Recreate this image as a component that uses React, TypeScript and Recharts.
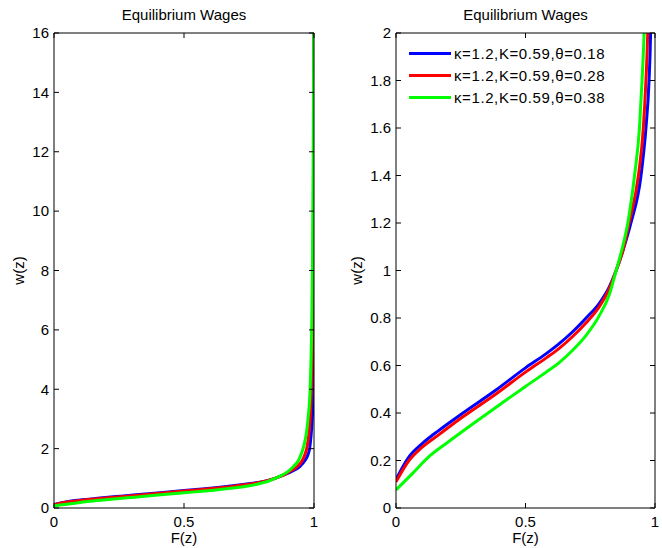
import { Legend, Line, LineChart, XAxis, YAxis } from "recharts";

// curves: F(z) on x, w(z) on y
const seriesNames = ["κ=1.2,K=0.59,θ=0.18", "κ=1.2,K=0.59,θ=0.28", "κ=1.2,K=0.59,θ=0.38"];
const seriesColors = ["#0000ff", "#ff0000", "#00ff00"];

const blueF = [0, 0.05, 0.1, 0.167, 0.257, 0.386, 0.5, 0.58, 0.63, 0.68, 0.734, 0.785, 0.824, 0.85, 0.875, 0.907, 0.946, 0.965, 0.977, 0.983, 0.993, 0.998, 1.0];
const blueW = [0.12, 0.215, 0.27, 0.328, 0.399, 0.497, 0.59, 0.65, 0.692, 0.74, 0.8, 0.862, 0.932, 1.0, 1.08, 1.2, 1.4, 1.6, 1.8, 2.0, 3.0, 4.0, 16];

const redF = [0, 0.05, 0.1, 0.167, 0.257, 0.386, 0.5, 0.58, 0.63, 0.68, 0.734, 0.785, 0.824, 0.85, 0.875, 0.9, 0.936, 0.955, 0.965, 0.972, 0.985, 0.99, 0.995, 0.998, 1.0];
const redW = [0.11, 0.2, 0.255, 0.31, 0.383, 0.48, 0.572, 0.632, 0.672, 0.72, 0.78, 0.848, 0.925, 1.0, 1.08, 1.2, 1.4, 1.6, 1.8, 2.0, 3.0, 4.0, 6.0, 10, 16];

const greenF = [0, 0.064, 0.129, 0.2, 0.3, 0.4, 0.5, 0.58, 0.63, 0.68, 0.734, 0.785, 0.824, 0.85, 0.875, 0.895, 0.921, 0.94, 0.95, 0.958, 0.977, 0.985, 0.991, 0.994, 0.997, 0.999];
const greenW = [0.076, 0.146, 0.218, 0.277, 0.357, 0.435, 0.512, 0.572, 0.612, 0.662, 0.727, 0.81, 0.9, 1.0, 1.1, 1.2, 1.4, 1.6, 1.8, 2.0, 3.0, 4.0, 6.0, 8.0, 12, 16];

const fTicks = [0, 0.5, 1];
const wTicksFull = [0, 2, 4, 6, 8, 10, 12, 14, 16];
const wTicksZoom = [0, 0.2, 0.4, 0.6, 0.8, 1, 1.2, 1.4, 1.6, 1.8, 2];

const toPoints = (fs: number[], ws: number[]) => fs.map((f, i) => ({ F: f, w: ws[i] }));
const series = [toPoints(blueF, blueW), toPoints(redF, redW), toPoints(greenF, greenW)];

const font = "'Liberation Sans', Arial, sans-serif";
const Y_AXIS_W = 44;
const PLOT_TOP = 33;
const PLOT_BOTTOM = 508;
const TICK = 5;

function LegendBox({ payload }: any) {
  return (
    <div style={{ font: `15px ${font}`, color: "#000", letterSpacing: "0.6px" }}>
      {(payload || []).map((p: any, i: number) => (
        <div key={i} style={{ display: "flex", alignItems: "center", height: 22, whiteSpace: "nowrap" }}>
          <span style={{ display: "inline-block", width: 42, height: 3, background: p.color, marginRight: 3 }} />
          <span>{p.value}</span>
        </div>
      ))}
    </div>
  );
}

type PanelProps = {
  left: number;
  width: number;
  plotLeft: number;
  plotRight: number;
  labelX: number;
  yMax: number;
  yTicks: number[];
  legend?: boolean;
};

function Panel({ left, width, plotLeft, plotRight, labelX, yMax, yTicks, legend }: PanelProps) {
  const marginLeft = plotLeft - Y_AXIS_W;

  // label plus MATLAB-style inward tick marks on both edges of the box
  const xTick = ({ x, y, payload }: any) => (
    <g>
      <path d={`M${x},${PLOT_BOTTOM}v${-TICK}M${x},${PLOT_TOP}v${TICK}`} stroke="#000" strokeWidth={1} fill="none" />
      <text x={x} y={y} dy="0.71em" textAnchor="middle" fill="#000" fontSize={15} fontFamily={font}>
        {String(payload.value)}
      </text>
    </g>
  );
  const yTick = ({ x, y, payload }: any) => (
    <g>
      <path d={`M${plotLeft},${y}h${TICK}M${plotRight},${y}h${-TICK}`} stroke="#000" strokeWidth={1} fill="none" />
      <text x={x} y={y} dy="0.355em" textAnchor="end" fill="#000" fontSize={15} fontFamily={font}>
        {String(payload.value)}
      </text>
    </g>
  );

  return (
    <div style={{ position: "absolute", left, top: 0, width, height: 548 }}>
      <div
        style={{
          position: "absolute",
          left: plotLeft,
          width: plotRight - plotLeft,
          top: 6,
          textAlign: "center",
          font: `15px ${font}`,
          lineHeight: "18px",
          color: "#000"
        }}
      >
        Equilibrium Wages
      </div>
      <LineChart width={width} height={548} margin={{ top: PLOT_TOP, right: width - plotRight, bottom: 0, left: marginLeft }}>
        <XAxis
          xAxisId="f"
          type="number"
          dataKey="F"
          domain={[0, 1]}
          ticks={fTicks}
          allowDataOverflow
          height={548 - PLOT_BOTTOM}
          stroke="#000"
          tickLine={false}
          tickSize={0}
          tickMargin={8}
          tick={xTick}
          label={{ value: "F(z)", position: "insideBottom", offset: 5, fill: "#000", fontSize: 15, fontFamily: font }}
        />
        <XAxis xAxisId="ft" type="number" orientation="top" domain={[0, 1]} allowDataOverflow mirror tick={false} tickLine={false} stroke="#000" />
        <YAxis
          yAxisId="w"
          type="number"
          domain={[0, yMax]}
          ticks={yTicks}
          allowDataOverflow
          width={Y_AXIS_W}
          stroke="#000"
          tickLine={false}
          tickSize={0}
          tickMargin={5}
          tick={yTick}
          label={{
            value: "w(z)",
            angle: -90,
            position: "insideLeft",
            offset: labelX - marginLeft,
            fill: "#000",
            fontSize: 15,
            fontFamily: font,
            style: { textAnchor: "middle" }
          }}
        />
        <YAxis yAxisId="wr" type="number" orientation="right" domain={[0, yMax]} allowDataOverflow mirror tick={false} tickLine={false} stroke="#000" />
        {series.map((data, i) => (
          <Line
            key={seriesNames[i]}
            xAxisId="f"
            yAxisId="w"
            data={data}
            dataKey="w"
            name={seriesNames[i]}
            type="monotone"
            stroke={seriesColors[i]}
            strokeWidth={3}
            dot={false}
            activeDot={false}
            isAnimationActive={false}
          />
        ))}
        {legend && (
          <Legend
            layout="vertical"
            align="center"
            verticalAlign="middle"
            wrapperStyle={{ left: 79, top: 42, width: 230 }}
            content={<LegendBox />}
          />
        )}
      </LineChart>
    </div>
  );
}

export default function App() {
  return (
    <div style={{ position: "absolute", left: 0, top: 0, width: 662, height: 548, background: "#fff" }}>
      <Panel left={0} width={330} plotLeft={54} plotRight={314} labelX={19} yMax={16} yTicks={wTicksFull} />
      <Panel left={330} width={332} plotLeft={66} plotRight={325} labelX={27} yMax={2} yTicks={wTicksZoom} legend />
    </div>
  );
}
